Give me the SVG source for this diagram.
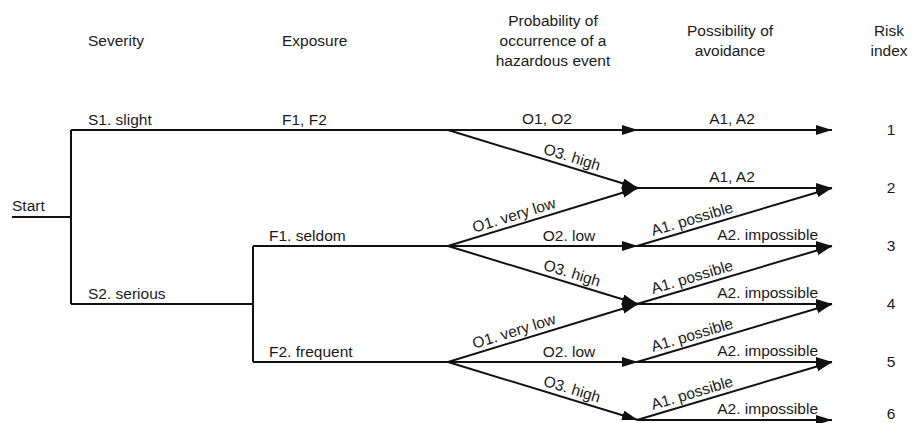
<svg xmlns="http://www.w3.org/2000/svg" width="912" height="423" viewBox="0 0 912 423">
<style>
  text { font-family: "Liberation Sans", Arial, sans-serif; font-size: 15.5px; fill: #1a1a1a; }
  .m { text-anchor: middle; }
  .e { text-anchor: end; }
  .ln { stroke: #111; stroke-width: 2; fill: none; }
  .ar { stroke: #111; stroke-width: 2; fill: none; marker-end: url(#ah); }
</style>
<defs>
  <marker id="ah" markerUnits="userSpaceOnUse" markerWidth="17" markerHeight="11" refX="16" refY="5" orient="auto">
    <path d="M0,0 L16,5 L0,10 Z" fill="#111"/>
  </marker>
</defs>
<rect width="912" height="423" fill="#fff"/>

<g id="headers">
  <text x="88" y="46">Severity</text>
  <text x="282" y="46">Exposure</text>
  <text class="m" x="553" y="26">Probability of</text>
  <text class="m" x="553" y="46">occurrence of a</text>
  <text class="m" x="553" y="66">hazardous event</text>
  <text class="m" x="730" y="36">Possibility of</text>
  <text class="m" x="730" y="56">avoidance</text>
  <text class="m" x="889" y="36">Risk</text>
  <text class="m" x="889" y="56">index</text>
</g>

<g id="connectors">
  <path class="ln" d="M12,217 H71 M71,130 V304 M71,130 H448 M71,304 H253 M253,246 V362 M253,246 H448 M253,362 H448"/>
  <line class="ar" x1="448" y1="130" x2="638" y2="130"/>
  <line class="ar" x1="448" y1="130" x2="638" y2="188"/>
  <line class="ar" x1="448" y1="246" x2="638" y2="188"/>
  <line class="ar" x1="448" y1="246" x2="638" y2="246"/>
  <line class="ar" x1="448" y1="246" x2="638" y2="304"/>
  <line class="ar" x1="448" y1="362" x2="638" y2="304"/>
  <line class="ar" x1="448" y1="362" x2="638" y2="362"/>
  <line class="ar" x1="448" y1="362" x2="638" y2="420"/>
  <line class="ar" x1="637" y1="130" x2="832" y2="130"/>
  <line class="ar" x1="637" y1="188" x2="832" y2="188"/>
  <line class="ar" x1="637" y1="246" x2="832" y2="188"/>
  <line class="ar" x1="637" y1="246" x2="832" y2="246"/>
  <line class="ar" x1="637" y1="304" x2="832" y2="246"/>
  <line class="ar" x1="637" y1="304" x2="832" y2="304"/>
  <line class="ar" x1="637" y1="362" x2="832" y2="304"/>
  <line class="ar" x1="637" y1="362" x2="832" y2="362"/>
  <line class="ar" x1="637" y1="420" x2="832" y2="362"/>
  <line class="ar" x1="637" y1="420" x2="832" y2="420"/>
</g>

<g id="start"><text x="12" y="211">Start</text></g>

<g id="severity">
  <text x="88" y="125">S1. slight</text>
  <text x="88" y="299">S2. serious</text>
</g>

<g id="exposure">
  <text x="282" y="125">F1, F2</text>
  <text x="269" y="241">F1. seldom</text>
  <text x="269" y="357">F2. frequent</text>
</g>

<g id="probability">
  <text class="m" x="547" y="124">O1, O2</text>
  <text class="m" transform="translate(569,166.9) rotate(17)" y="-5">O3. high</text>
  <text class="m" transform="translate(517,224.9) rotate(-17)" y="-5">O1. very low</text>
  <text class="m" x="569" y="241">O2. low</text>
  <text class="m" transform="translate(569,282.9) rotate(17)" y="-5">O3. high</text>
  <text class="m" transform="translate(517,340.9) rotate(-17)" y="-5">O1. very low</text>
  <text class="m" x="569" y="357">O2. low</text>
  <text class="m" transform="translate(569,398.9) rotate(17)" y="-5">O3. high</text>
</g>

<g id="avoidance">
  <text class="m" x="732" y="124">A1, A2</text>
  <text class="m" x="732" y="182">A1, A2</text>
  <text class="m" transform="translate(695,228.75) rotate(-16.56)" y="-5">A1. possible</text>
  <text class="e" x="818" y="240">A2. impossible</text>
  <text class="m" transform="translate(695,286.75) rotate(-16.56)" y="-5">A1. possible</text>
  <text class="e" x="818" y="298">A2. impossible</text>
  <text class="m" transform="translate(695,344.75) rotate(-16.56)" y="-5">A1. possible</text>
  <text class="e" x="818" y="356">A2. impossible</text>
  <text class="m" transform="translate(695,402.75) rotate(-16.56)" y="-5">A1. possible</text>
  <text class="e" x="818" y="414">A2. impossible</text>
</g>

<g id="risk-index">
  <text class="m" x="891" y="135">1</text>
  <text class="m" x="891" y="193">2</text>
  <text class="m" x="891" y="251">3</text>
  <text class="m" x="891" y="309">4</text>
  <text class="m" x="891" y="367">5</text>
  <text class="m" x="891" y="419">6</text>
</g>
</svg>
